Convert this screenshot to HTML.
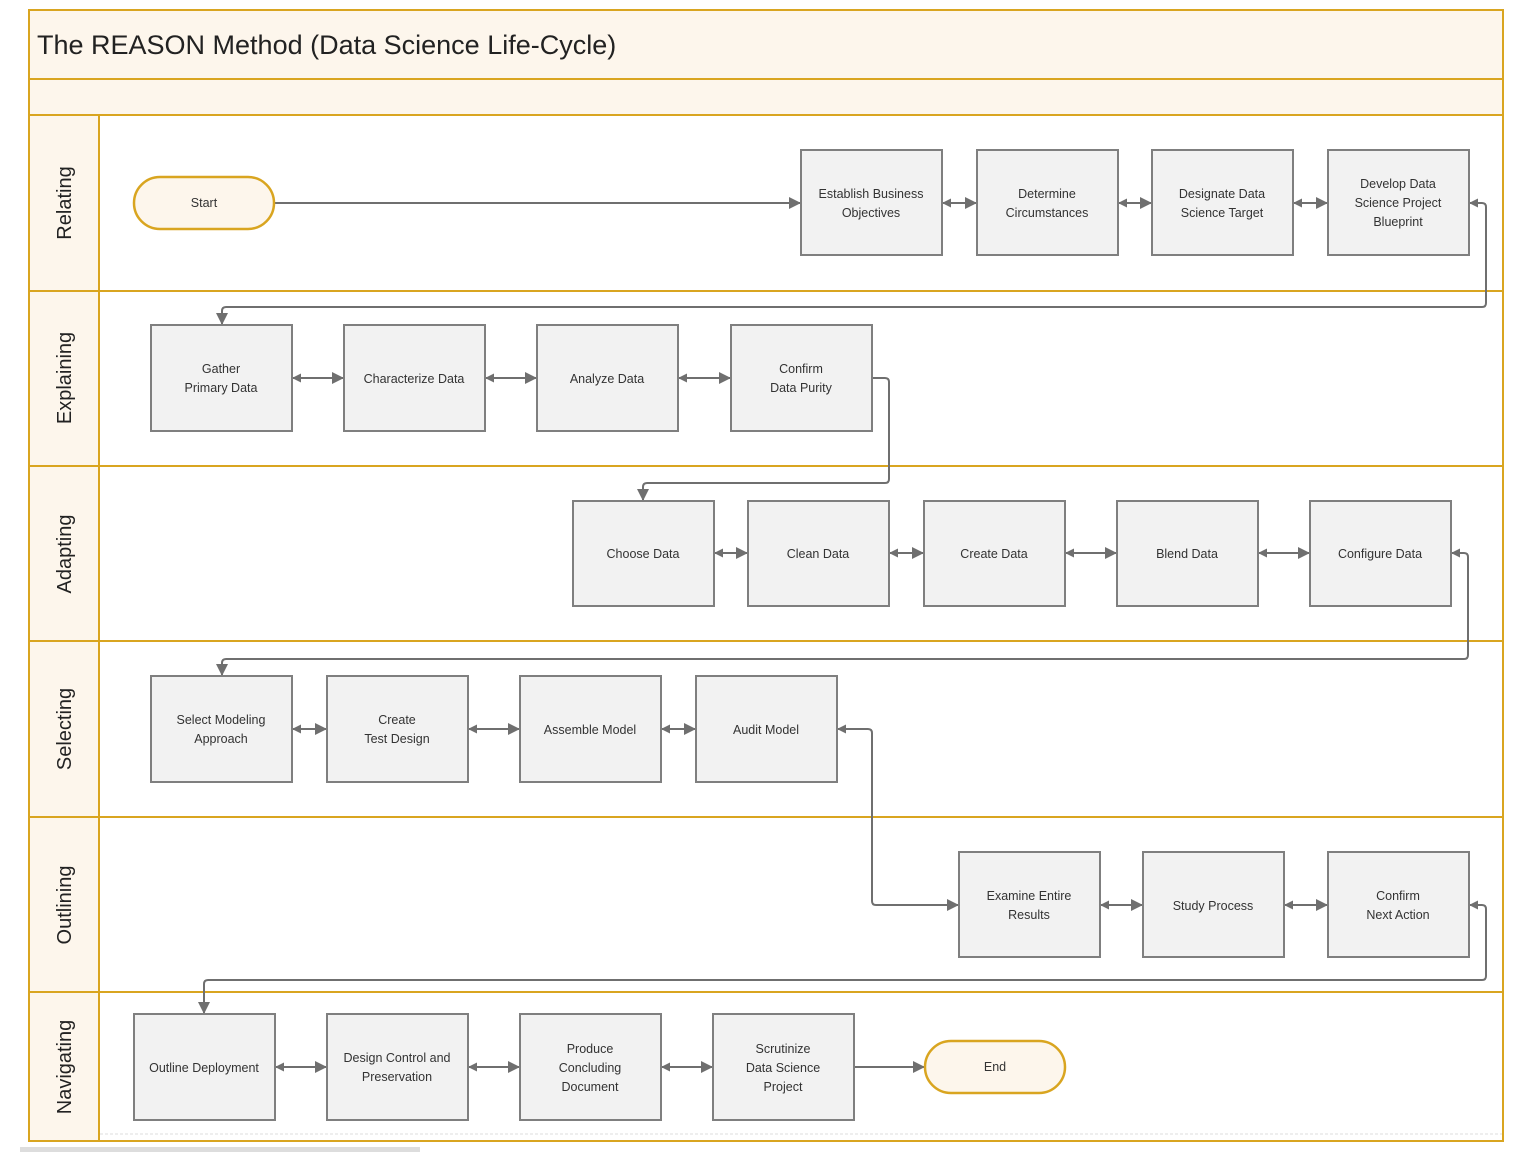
<!DOCTYPE html>
<html><head><meta charset="utf-8">
<style>
html,body{margin:0;padding:0;background:#fff;}
svg{display:block;}
text{font-family:"Liberation Sans",sans-serif;}
.bt{font-size:12.5px;fill:#333;text-anchor:middle;}
.ln{font-size:20px;fill:#222;text-anchor:middle;}
</style></head><body>
<svg width="1536" height="1152" viewBox="0 0 1536 1152" xmlns="http://www.w3.org/2000/svg">
<defs>
<marker id="ae" viewBox="0 0 10 10" refX="10" refY="5" markerWidth="12" markerHeight="12" markerUnits="userSpaceOnUse" orient="auto"><path d="M0,0 L10,5 L0,10 z" fill="#6f6f6f"/></marker>
<marker id="as" viewBox="0 0 10 10" refX="0" refY="5" markerWidth="9" markerHeight="9" markerUnits="userSpaceOnUse" orient="auto"><path d="M10,0 L0,5 L10,10 z" fill="#6f6f6f"/></marker>
</defs>
<!-- frame -->
<rect x="29" y="10" width="1474" height="105" fill="#fdf6ec"/>
<rect x="29" y="115" width="70" height="1026" fill="#fdf6ec"/>
<g stroke="#d9a520" stroke-width="2" fill="none">
<rect x="29" y="10" width="1474" height="1131"/>
<line x1="29" y1="79" x2="1503" y2="79"/>
<line x1="29" y1="115" x2="1503" y2="115"/>
<line x1="29" y1="291" x2="1503" y2="291"/>
<line x1="29" y1="466" x2="1503" y2="466"/>
<line x1="29" y1="641" x2="1503" y2="641"/>
<line x1="29" y1="817" x2="1503" y2="817"/>
<line x1="29" y1="992" x2="1503" y2="992"/>
<line x1="99" y1="115" x2="99" y2="1141"/>
</g>
<line x1="100" y1="1134" x2="1502" y2="1134" stroke="#ddd" stroke-dasharray="3,2"/>
<rect x="20" y="1147" width="400" height="5" fill="#ddd"/>
<text x="37" y="54" style="font-size:27px;fill:#222">The REASON Method (Data Science Life-Cycle)</text>
<g class="ln">
<text transform="translate(71,203) rotate(-90)">Relating</text>
<text transform="translate(71,378) rotate(-90)">Explaining</text>
<text transform="translate(71,554) rotate(-90)">Adapting</text>
<text transform="translate(71,729) rotate(-90)">Selecting</text>
<text transform="translate(71,905) rotate(-90)">Outlining</text>
<text transform="translate(71,1067) rotate(-90)">Navigating</text>
</g>
<!-- connectors -->
<g stroke="#6f6f6f" stroke-width="2" fill="none">
<line x1="274" y1="203" x2="801" y2="203" marker-end="url(#ae)"/>
<line x1="942" y1="203" x2="977" y2="203" marker-start="url(#as)" marker-end="url(#ae)"/>
<line x1="1118" y1="203" x2="1152" y2="203" marker-start="url(#as)" marker-end="url(#ae)"/>
<line x1="1293" y1="203" x2="1328" y2="203" marker-start="url(#as)" marker-end="url(#ae)"/>
<path d="M1469,203 H1482 Q1486,203 1486,207 V303 Q1486,307 1482,307 H226 Q222,307 222,311 V325" marker-start="url(#as)" marker-end="url(#ae)"/>
<line x1="292" y1="378" x2="344" y2="378" marker-start="url(#as)" marker-end="url(#ae)"/>
<line x1="485" y1="378" x2="537" y2="378" marker-start="url(#as)" marker-end="url(#ae)"/>
<line x1="678" y1="378" x2="731" y2="378" marker-start="url(#as)" marker-end="url(#ae)"/>
<path d="M872,378 H885 Q889,378 889,382 V479 Q889,483 885,483 H647 Q643,483 643,487 V501" marker-end="url(#ae)"/>
<line x1="714" y1="553" x2="748" y2="553" marker-start="url(#as)" marker-end="url(#ae)"/>
<line x1="889" y1="553" x2="924" y2="553" marker-start="url(#as)" marker-end="url(#ae)"/>
<line x1="1065" y1="553" x2="1117" y2="553" marker-start="url(#as)" marker-end="url(#ae)"/>
<line x1="1258" y1="553" x2="1310" y2="553" marker-start="url(#as)" marker-end="url(#ae)"/>
<path d="M1451,553 H1464 Q1468,553 1468,557 V655 Q1468,659 1464,659 H226 Q222,659 222,663 V676" marker-start="url(#as)" marker-end="url(#ae)"/>
<line x1="292" y1="729" x2="327" y2="729" marker-start="url(#as)" marker-end="url(#ae)"/>
<line x1="468" y1="729" x2="520" y2="729" marker-start="url(#as)" marker-end="url(#ae)"/>
<line x1="661" y1="729" x2="696" y2="729" marker-start="url(#as)" marker-end="url(#ae)"/>
<path d="M837,729 H868 Q872,729 872,733 V901 Q872,905 876,905 H959" marker-start="url(#as)" marker-end="url(#ae)"/>
<line x1="1100" y1="905" x2="1143" y2="905" marker-start="url(#as)" marker-end="url(#ae)"/>
<line x1="1284" y1="905" x2="1328" y2="905" marker-start="url(#as)" marker-end="url(#ae)"/>
<path d="M1469,905 H1482 Q1486,905 1486,909 V976 Q1486,980 1482,980 H208 Q204,980 204,984 V1014" marker-start="url(#as)" marker-end="url(#ae)"/>
<line x1="275" y1="1067" x2="327" y2="1067" marker-start="url(#as)" marker-end="url(#ae)"/>
<line x1="468" y1="1067" x2="520" y2="1067" marker-start="url(#as)" marker-end="url(#ae)"/>
<line x1="661" y1="1067" x2="713" y2="1067" marker-start="url(#as)" marker-end="url(#ae)"/>
<line x1="854" y1="1067" x2="925" y2="1067" marker-end="url(#ae)"/>
</g>
<!-- pills -->
<g fill="#fdf6ec" stroke="#d9a520" stroke-width="2.5">
<rect x="134" y="177" width="140" height="52" rx="26"/>
<rect x="925" y="1041" width="140" height="52" rx="26"/>
</g>
<text class="bt" x="204" y="207">Start</text>
<text class="bt" x="995" y="1071">End</text>
<!-- boxes -->
<g fill="#f2f2f2" stroke="#7f7f7f" stroke-width="2">
<rect x="801" y="150" width="141" height="105"/>
<rect x="977" y="150" width="141" height="105"/>
<rect x="1152" y="150" width="141" height="105"/>
<rect x="1328" y="150" width="141" height="105"/>
<rect x="151" y="325" width="141" height="106"/>
<rect x="344" y="325" width="141" height="106"/>
<rect x="537" y="325" width="141" height="106"/>
<rect x="731" y="325" width="141" height="106"/>
<rect x="573" y="501" width="141" height="105"/>
<rect x="748" y="501" width="141" height="105"/>
<rect x="924" y="501" width="141" height="105"/>
<rect x="1117" y="501" width="141" height="105"/>
<rect x="1310" y="501" width="141" height="105"/>
<rect x="151" y="676" width="141" height="106"/>
<rect x="327" y="676" width="141" height="106"/>
<rect x="520" y="676" width="141" height="106"/>
<rect x="696" y="676" width="141" height="106"/>
<rect x="959" y="852" width="141" height="105"/>
<rect x="1143" y="852" width="141" height="105"/>
<rect x="1328" y="852" width="141" height="105"/>
<rect x="134" y="1014" width="141" height="106"/>
<rect x="327" y="1014" width="141" height="106"/>
<rect x="520" y="1014" width="141" height="106"/>
<rect x="713" y="1014" width="141" height="106"/>
</g>
<g class="bt">
<text x="871" y="198">Establish Business</text><text x="871" y="217">Objectives</text>
<text x="1047" y="198">Determine</text><text x="1047" y="217">Circumstances</text>
<text x="1222" y="198">Designate Data</text><text x="1222" y="217">Science Target</text>
<text x="1398" y="188">Develop Data</text><text x="1398" y="207">Science Project</text><text x="1398" y="226">Blueprint</text>
<text x="221" y="373">Gather</text><text x="221" y="392">Primary Data</text>
<text x="414" y="383">Characterize Data</text>
<text x="607" y="383">Analyze Data</text>
<text x="801" y="373">Confirm</text><text x="801" y="392">Data Purity</text>
<text x="643" y="558">Choose Data</text>
<text x="818" y="558">Clean Data</text>
<text x="994" y="558">Create Data</text>
<text x="1187" y="558">Blend Data</text>
<text x="1380" y="558">Configure Data</text>
<text x="221" y="724">Select Modeling</text><text x="221" y="743">Approach</text>
<text x="397" y="724">Create</text><text x="397" y="743">Test Design</text>
<text x="590" y="734">Assemble Model</text>
<text x="766" y="734">Audit Model</text>
<text x="1029" y="900">Examine Entire</text><text x="1029" y="919">Results</text>
<text x="1213" y="910">Study Process</text>
<text x="1398" y="900">Confirm</text><text x="1398" y="919">Next Action</text>
<text x="204" y="1072">Outline Deployment</text>
<text x="397" y="1062">Design Control and</text><text x="397" y="1081">Preservation</text>
<text x="590" y="1053">Produce</text><text x="590" y="1072">Concluding</text><text x="590" y="1091">Document</text>
<text x="783" y="1053">Scrutinize</text><text x="783" y="1072">Data Science</text><text x="783" y="1091">Project</text>
</g>
</svg>
</body></html>
